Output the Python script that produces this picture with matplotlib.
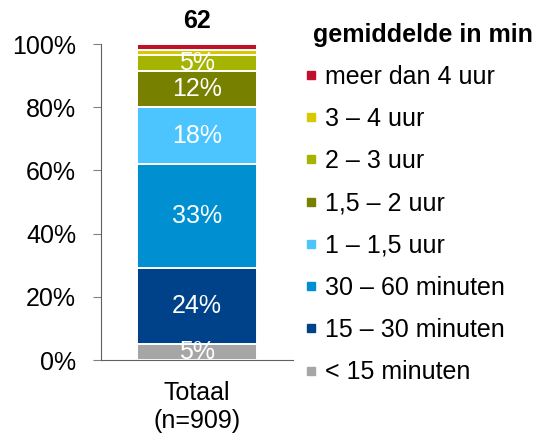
import matplotlib.pyplot as plt
from matplotlib.lines import Line2D

plt.rcParams["font.family"] = ["Liberation Sans", "DejaVu Sans"]

# data, bottom to top
categories = ["< 15 minuten", "15 – 30 minuten", "30 – 60 minuten", "1 – 1,5 uur",
              "1,5 – 2 uur", "2 – 3 uur", "3 – 4 uur", "meer dan 4 uur"]
values = [5, 24, 33, 18, 11.5, 5, 1.75, 1.75]
labels = ["5%", "24%", "33%", "18%", "12%", "5%", "", ""]
colors = ["#A6A6A6", "#004289", "#0090D2", "#4CC5FF", "#788000", "#A4B400", "#D6C900", "#C0102A"]
group = "Totaal\n(n=909)"
mean_min = "62"

fig = plt.figure(figsize=(5.49, 4.36), dpi=100)
ax = fig.add_axes([0.184, 0.174, 0.35, 0.725])

bottom = 0
for val, lab, col in zip(values, labels, colors):
    ax.bar(0, val, width=0.625, bottom=bottom, color=col, edgecolor="white", linewidth=1.4)
    if lab:
        ax.text(0, bottom + val / 2, lab, ha="center", va="center", color="white", fontsize=18)
    bottom += val

ax.text(0, 103.5, mean_min, ha="center", va="bottom", fontsize=18, fontweight="bold")

ax.set_xlim(-0.5, 0.5)
ax.set_ylim(0, 100)
ax.set_yticks(range(0, 101, 20))
ax.set_yticklabels([f"{v}%" for v in range(0, 101, 20)], fontsize=18)
ax.set_xticks([0])
ax.set_xticklabels([group], fontsize=18, linespacing=1.2)
ax.tick_params(axis="x", length=0, pad=15)
ax.tick_params(axis="y", length=6, color="#808080", pad=12)
for s in ["top", "right"]:
    ax.spines[s].set_visible(False)
for s in ["left", "bottom"]:
    ax.spines[s].set_color("#606060")

handles = [Line2D([], [], marker="s", linestyle="none", markersize=5.5,
                  markerfacecolor=c, markeredgecolor=c) for c in colors]
fig.legend(handles[::-1], categories[::-1], loc="upper left",
           bbox_to_anchor=(0.517, 0.9035), frameon=False, fontsize=18,
           handlelength=0.4, handletextpad=0.36, labelspacing=0.73,
           borderpad=0.4)
fig.text(0.570, 0.92, "gemiddelde in min", ha="left", va="center",
         fontsize=18, fontweight="bold")

fig.savefig("out.png", dpi=100)
